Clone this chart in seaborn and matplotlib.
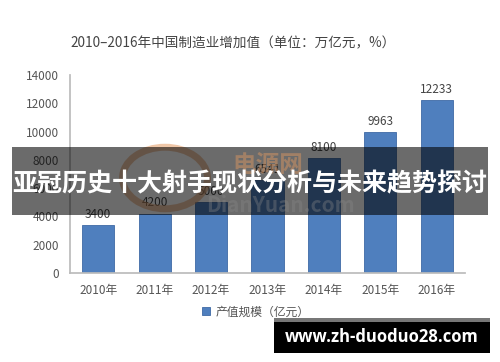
import matplotlib
matplotlib.use("Agg")
import matplotlib.pyplot as plt
import seaborn as sns
import pandas as pd
from matplotlib.patches import Rectangle, Circle

years = ["2010年", "2011年", "2012年", "2013年", "2014年", "2015年", "2016年"]
values = [3400, 4200, 5000, 6541, 8100, 9963, 12233]
yticks = [0, 2000, 4000, 6000, 8000, 10000, 12000, 14000]
title = "2010–2016年中国制造业增加值（单位：万亿元，%）"
legend_label = "产值规模（亿元）"
banner_text = "亚冠历史十大射手现状分析与未来趋势探讨"
site_text = "www.zh-duoduo28.com"

sns.set_theme(style="white")
plt.rcParams['font.family'] = ['Noto Sans CJK SC', 'DejaVu Sans']

df = pd.DataFrame({"year": years, "value": values})

fig = plt.figure(figsize=(5.0, 3.62), dpi=100)
ax = fig.add_axes([0.14, 0.246, 0.79, 0.547])

bar_color = "#4F7FBE"
sns.barplot(data=df, x="year", y="value", color=bar_color, width=0.57,
            ax=ax, saturation=1, edgecolor="#3f6aa5", linewidth=0.6,
            label=legend_label)
ax.set_ylim(0, 14000)
ax.set_yticks(yticks)
ax.set_yticklabels([str(v) for v in yticks])
ax.set_xlabel("")
ax.set_ylabel("")
ax.tick_params(axis="y", labelsize=8.5, colors="#555555", length=0, pad=8)
ax.tick_params(axis="x", labelsize=8.5, colors="#555555", length=0, pad=8)
for s in ["top", "right"]:
    ax.spines[s].set_visible(False)
ax.spines["left"].set_color("#bbbbbb")
ax.spines["bottom"].set_color("#bbbbbb")

ax.bar_label(ax.containers[0], labels=[str(v) for v in values], padding=3,
             fontsize=8.5, color="#444444")

leg = ax.legend(loc="center", bbox_to_anchor=(0.47, -0.197), frameon=False,
                fontsize=8.5, handlelength=0.7, handleheight=0.7, handletextpad=0.5)
for t in leg.get_texts():
    t.set_color("#555555")

fig.text(0.466, 0.88, title, ha="center", va="center", fontsize=9.8, color="#444444")

# watermark
ring = Circle((165 / 500, 1 - 178 / 362), 0.085, transform=fig.transFigure,
              fill=False, edgecolor="#e39a62", linewidth=5, alpha=0.55)
fig.add_artist(ring)
fig.text(268 / 500, 1 - 165 / 362, "电源网", ha="center", va="center",
         fontsize=17, fontweight="bold", color="#e39a62", alpha=0.45)
fig.text(0.56, 1 - 205 / 362, "DianYuan.com", ha="center", va="center",
         fontsize=15, fontweight="bold", style="italic", color="#8a8a8a", alpha=0.35)

# overlay banner
fig.add_artist(Rectangle((12 / 500, 1 - 215 / 362), 476 / 500, 68 / 362,
                         transform=fig.transFigure, facecolor="black", alpha=0.58,
                         edgecolor="none"))
fig.text(0.5, 1 - 184 / 362, banner_text, ha="center", va="center", fontsize=18,
         fontweight="bold", color="white")

# bottom site banner
fig.add_artist(Rectangle((274 / 500, 1 - 322 / 362), 216 / 500, 4 / 362,
                         transform=fig.transFigure, facecolor="#777777", edgecolor="none"))
fig.add_artist(Rectangle((274 / 500, 1 - 353 / 362), 216 / 500, 31 / 362,
                         transform=fig.transFigure, facecolor="black", edgecolor="none"))
fig.text(382 / 500, 1 - 337 / 362, site_text, ha="center", va="center", fontsize=12,
         fontweight="bold", color="white", family=["Open Sans", "DejaVu Sans"])

fig.savefig("out.png", dpi=100)
